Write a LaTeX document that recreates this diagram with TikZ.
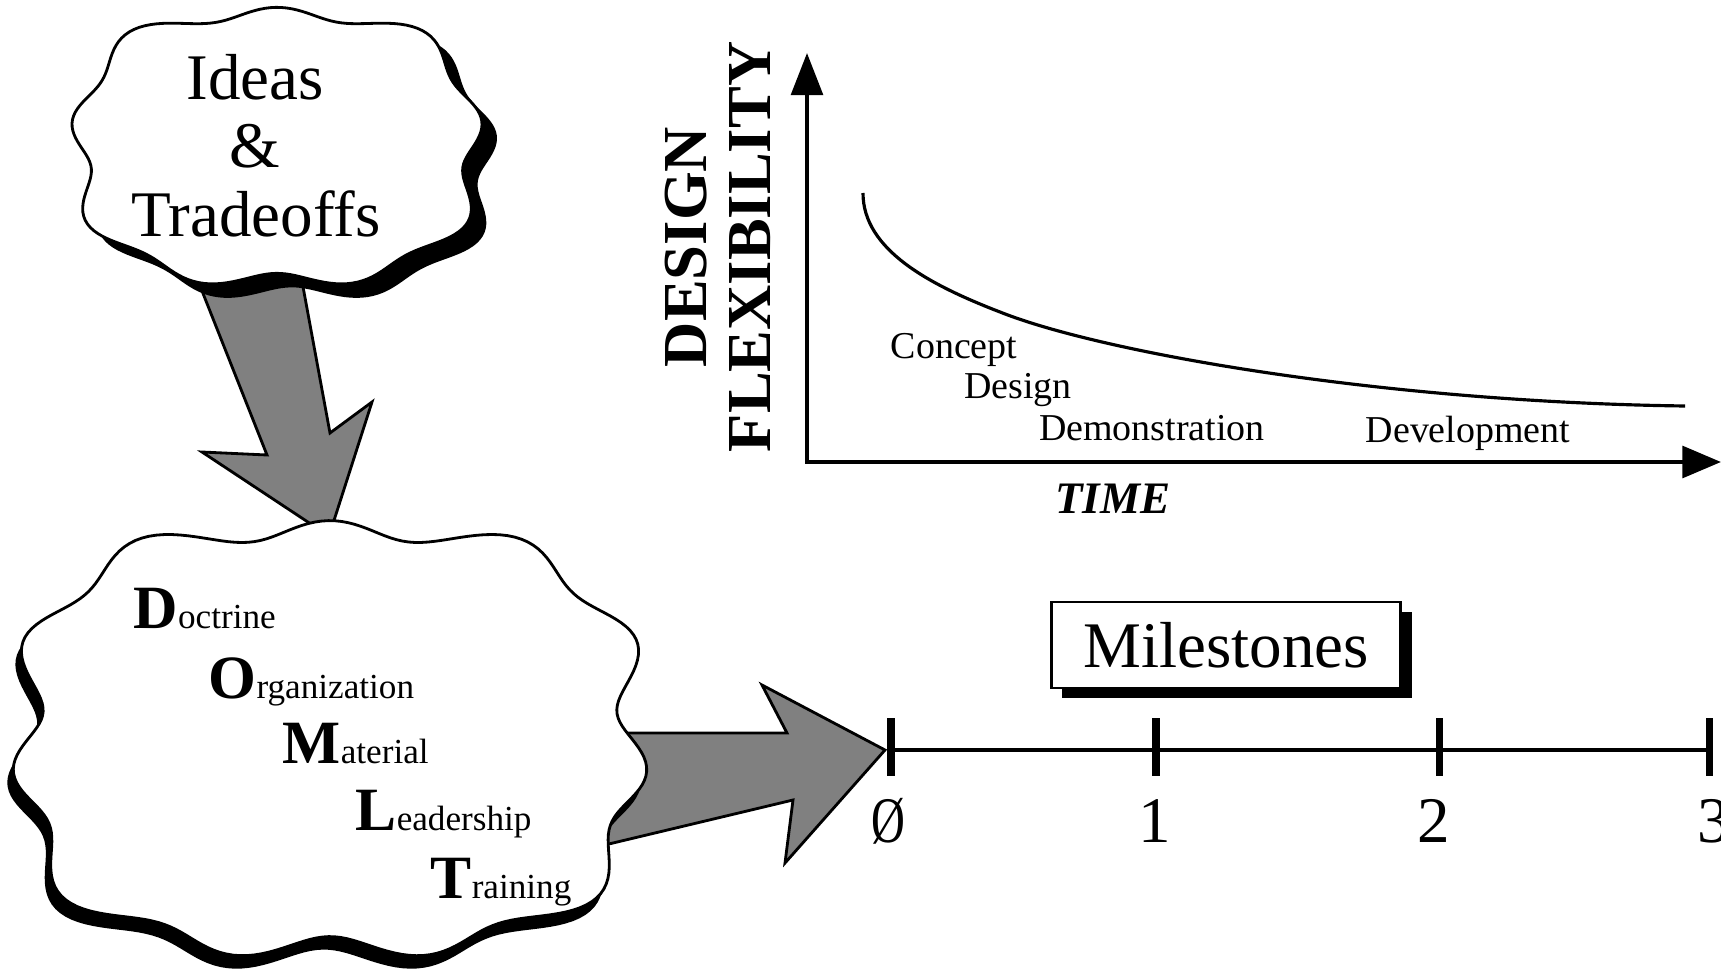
\documentclass[tikz,border=0pt]{standalone}
\usepackage{fontspec}
\setmainfont{Liberation Serif}
\usepackage{tikz}
\usetikzlibrary{arrows.meta}
\usetikzlibrary{shadows}

\begin{document}
\begin{tikzpicture}[x=0.01cm, y=-0.01cm]

	\useasboundingbox (0,0) rectangle (1721,973);

	\tikzstyle{blockarrow}=[draw=black, line width=0.8pt, fill=black!50, line join=miter]
	\tikzstyle{cloudline}=[draw=black, line width=0.8pt, fill=white]
	\tikzstyle{axis}=[line width=1.2pt, line join=miter, {Triangle[length=12pt,width=9pt]}-{Triangle[length=11pt,width=9pt]}]
	\tikzstyle{tick}=[line width=2pt]
	\tikzstyle{phase}=[anchor=base, inner sep=0pt, font=\fontsize{10.8}{12}\selectfont]
	\tikzstyle{domlt}=[anchor=base west, inner sep=0pt]
	\tikzstyle{digit}=[anchor=base, inner sep=0pt, font=\fontsize{18.5}{20}\selectfont]

	% block arrows first, the clouds cover their tails
	\draw[blockarrow] (166,200) -- (287,200) -- (330,433) -- (372,402) -- (329,536) -- (202,452) -- (267,455) -- cycle;
	\draw[blockarrow] (500,733) -- (787,733) -- (762,685) -- (885,750) -- (785,863) -- (793,800) -- (500,870) -- cycle;

	% top cloud
	\fill[black] plot[domain=0:360, samples=240, variable=\t] ({292+196*(1+0.05*sin(9*\t+180)+0.1*sin(2*\t)^2)*cos(\t)}, {161+133*(1+0.05*sin(9*\t+180)+0.1*sin(2*\t)^2)*sin(\t)}) -- cycle;
	\draw[cloudline] plot[domain=0:360, samples=240, variable=\t] ({277+196*(1+0.05*sin(9*\t+180)+0.1*sin(2*\t)^2)*cos(\t)}, {147+133*(1+0.05*sin(9*\t+180)+0.1*sin(2*\t)^2)*sin(\t)}) -- cycle;

	% bottom cloud
	\fill[black] plot[domain=0:360, samples=300, variable=\t] ({324+302*(1+0.05*sin(11*\t)+0.12*sin(2*\t)^2)*cos(\t)}, {752+208*(1+0.05*sin(11*\t)+0.12*sin(2*\t)^2)*sin(\t)}) -- cycle;
	\draw[cloudline] plot[domain=0:360, samples=300, variable=\t] ({330+302*(1+0.05*sin(11*\t)+0.12*sin(2*\t)^2)*cos(\t)}, {739+208*(1+0.05*sin(11*\t)+0.12*sin(2*\t)^2)*sin(\t)}) -- cycle;

	\tikzstyle{every node}=[inner sep=0pt, font=\fontsize{18.5}{20}\selectfont]

	\node[anchor=base] (ideas) at (255,100) {Ideas};
	\node[anchor=base] (amp) at (255,168) {\&};
	\node[anchor=base] (tradeoffs) at (256,237) {Tradeoffs};

	\node[domlt] (doctrine) at (133,628) {{\fontsize{17.5}{20}\selectfont\bfseries D}{\fontsize{10}{12}\selectfont octrine}};
	\node[domlt] (organization) at (208,698) {{\fontsize{17.5}{20}\selectfont\bfseries O}{\fontsize{10}{12}\selectfont rganization}};
	\node[domlt] (material) at (282,763) {{\fontsize{17.5}{20}\selectfont\bfseries M}{\fontsize{10}{12}\selectfont aterial}};
	\node[domlt] (leadership) at (355,830) {{\fontsize{17.5}{20}\selectfont\bfseries L}{\fontsize{10}{12}\selectfont eadership}};
	\node[domlt] (training) at (430,898) {{\fontsize{17.5}{20}\selectfont\bfseries T}{\fontsize{10}{12}\selectfont raining}};

	% flexibility graph
	\coordinate (origin) at (807,462);
	\coordinate (ytop) at (807,53);
	\coordinate (xend) at (1721,462);
	\draw[axis] (ytop) -- (origin) -- (xend);

	\draw[line width=0.9pt] (863,193) .. controls (863,250) and (930,285) .. (1000,312)
		.. controls (1100,352) and (1380,402) .. (1685,406);

	\node[rotate=90, font=\fontsize{17.8}{20}\selectfont\bfseries] (design) at (686,247) {DESIGN};
	\node[rotate=90, font=\fontsize{17.8}{20}\selectfont\bfseries] (flexibility) at (750,247) {FLEXIBILITY};
	\node[anchor=base, font=\fontsize{12.8}{14}\selectfont\bfseries\itshape] (time) at (1113,513) {TIME};

	\node[phase] (concept) at (954,358) {Concept};
	\node[phase] (designph) at (1018,398) {Design};
	\node[phase] (demo) at (1152,440) {Demonstration};
	\node[phase] (devel) at (1468,442) {Development};

	% milestones
	\node[draw, fill=white, line width=0.7pt, minimum width=3.49cm, minimum height=0.86cm,
		drop shadow={shadow xshift=0.11cm, shadow yshift=-0.10cm, fill=black, opacity=1}] (milestones) at (1226,645) {Milestones};

	\coordinate (m0) at (891,750);
	\coordinate (m3) at (1709,750);
	\draw[line width=1.1pt] (m0) -- (m3);
	\foreach \p in {891,1156,1439,1709}
		\draw[tick] (\p,718) -- (\p,776);

	\node[digit] (lab0) at (888,842) {\scalebox{0.72}[1]{Ø}};
	\node[digit] (lab1) at (1155,842) {1};
	\node[digit] (lab2) at (1434,842) {2};
	\node[digit] (lab3) at (1714,842) {3};

\end{tikzpicture}
\end{document}
